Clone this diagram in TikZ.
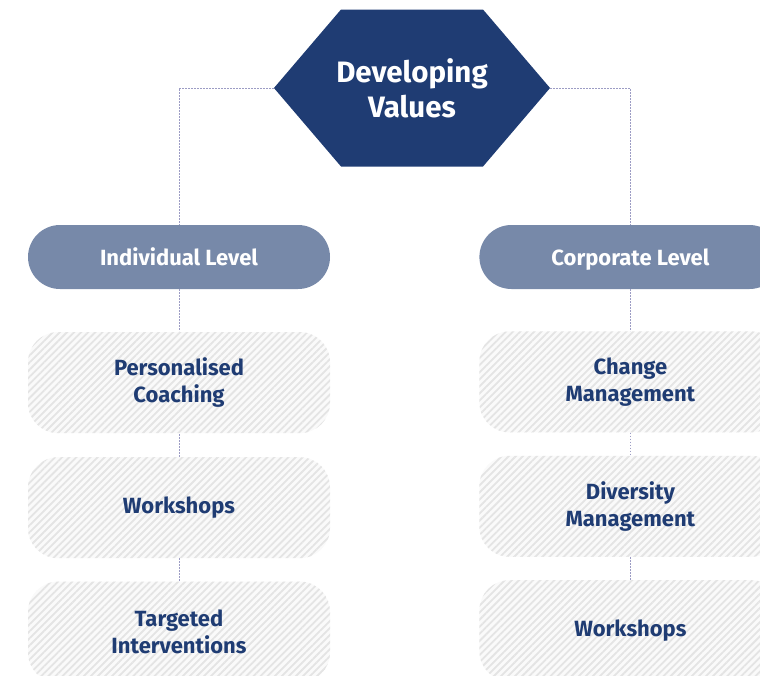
\documentclass[tikz,border=0pt]{standalone}
\usepackage{fontspec}
\setmainfont{Fira Sans}
\usepackage{tikz}
\usetikzlibrary{positioning,shapes.symbols,patterns.meta}
\definecolor{dvnavy}{HTML}{1F3C73}
\definecolor{dvslate}{HTML}{7789A9}
\definecolor{dvdots}{HTML}{9C9CC4}
\definecolor{dvhatch}{HTML}{E4E4E4}
\definecolor{dvpale}{HTML}{FAFAFA}

\begin{document}
\begin{tikzpicture}[
  x=1pt, y=-1pt,
  node distance=23pt and 149pt,
  hexa/.style={shape=signal, signal to=west and east, signal pointer angle=99, fill=dvnavy, text=white, inner sep=0pt, minimum width=276pt, minimum height=157pt, align=center, font=\fontsize{29.5}{35}\selectfont\bfseries},
  level/.style={rectangle, rounded corners=32pt, fill=dvslate, text=white, minimum width=302pt, minimum height=64pt, text height=16pt, text depth=0pt, font=\fontsize{22}{27}\selectfont\bfseries},
  item/.style={rectangle, rounded corners=30pt, preaction={fill=dvpale}, pattern={Lines[angle=45, distance=5pt, line width=1.8pt]}, pattern color=dvhatch, text=dvnavy, minimum width=302pt, minimum height=101pt, align=center, font=\fontsize{22}{27}\selectfont\bfseries},
  link/.style={draw=dvdots, line width=1pt, dash pattern=on 1.6pt off 1.4pt}
]
\useasboundingbox (0,0) rectangle (760,675);
\node[hexa] (values) at (412,88) {\makebox[142pt]{Developing}\\Values};
\node[level] (indiv) at (179,257) {Individual Level};
\node[level, right=of indiv] (corp) {Corporate Level};
\node[item, below=42pt of indiv] (coach) {Personalised\\Coaching};
\node[item, below=of coach] (workl) {Workshops};
\node[item, below=of workl] (target) {Targeted\\Interventions};
\node[item, below=42pt of corp] (change) {Change\\Management};
\node[item, below=of change] (diversity) {Diversity\\Management};
\node[item, below=of diversity] (workr) {Workshops};
\draw[link] (values.west) -| (indiv.north);
\draw[link] (values.east) -| (corp.north);
\draw[link] (indiv) -- (coach);
\draw[link] (coach) -- (workl);
\draw[link] (workl) -- (target);
\draw[link] (corp) -- (change);
\draw[link] (change) -- (diversity);
\draw[link] (diversity) -- (workr);
\end{tikzpicture}
\end{document}
